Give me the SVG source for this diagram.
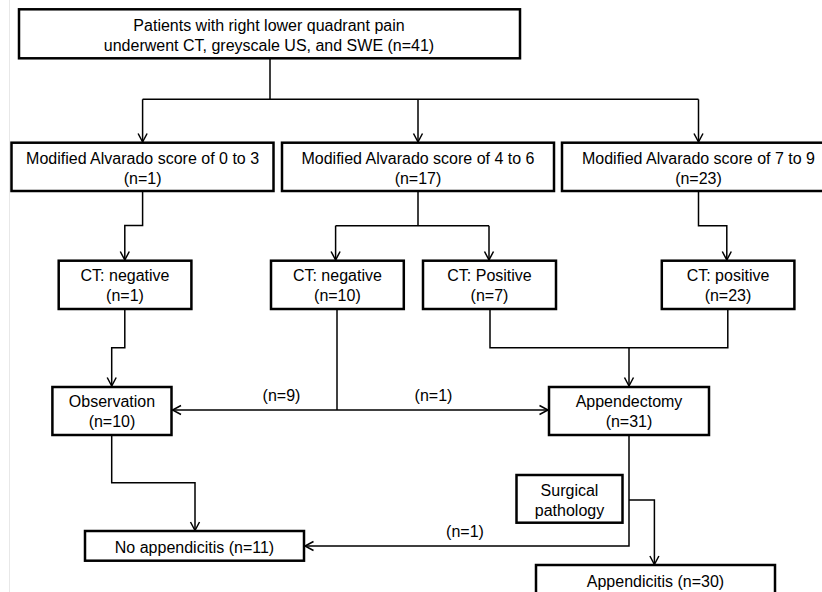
<svg xmlns="http://www.w3.org/2000/svg" width="822" height="592" viewBox="0 0 822 592">
<defs>
<marker id="arr" markerUnits="userSpaceOnUse" markerWidth="12" markerHeight="12" refX="10" refY="6" orient="auto">
<path d="M1.5,1.5 L10,6 L1.5,10.5" fill="none" stroke="#000" stroke-width="1.5"/>
</marker>
<style>
.box{fill:#fff;stroke:#000;stroke-width:2.5}
.t{font-family:"Liberation Sans",Arial,sans-serif;font-size:16px;fill:#000;text-anchor:middle}
.c{fill:none;stroke:#000;stroke-width:1.5}
</style>
</defs>
<rect width="822" height="592" fill="#fff"/>
<line x1="9.5" y1="0" x2="9.5" y2="592" stroke="#e8e8e8" stroke-width="1"/>

<g id="connectors">
<path class="c" d="M270,58 V99.3 M142.6,99.3 H698.5"/>
<path class="c" d="M142.6,99.3 V142" marker-end="url(#arr)"/>
<path class="c" d="M418,99.3 V142" marker-end="url(#arr)"/>
<path class="c" d="M698.5,99.3 V142" marker-end="url(#arr)"/>
<path class="c" d="M142.6,191 V225.5 H124.8 V260" marker-end="url(#arr)"/>
<path class="c" d="M418,191 V225.7 M335.6,225.7 H489"/>
<path class="c" d="M335.6,225.7 V260" marker-end="url(#arr)"/>
<path class="c" d="M489,225.7 V260" marker-end="url(#arr)"/>
<path class="c" d="M698.5,191 V225.7 H726.8 V260" marker-end="url(#arr)"/>
<path class="c" d="M124.8,309 V347.7 H111.7 V386" marker-end="url(#arr)"/>
<path class="c" d="M337,309 V410"/>
<path class="c" d="M337,410 H172.5" marker-end="url(#arr)"/>
<path class="c" d="M337,410 H548" marker-end="url(#arr)"/>
<path class="c" d="M490,309 V347.7 H727.8 V309"/>
<path class="c" d="M629,347.7 V386" marker-end="url(#arr)"/>
<path class="c" d="M111.7,435 V482.7 H195 V530.5" marker-end="url(#arr)"/>
<path class="c" d="M629,435 V546 H305" marker-end="url(#arr)"/>
<path class="c" d="M629,500 H654.4 V564.5" marker-end="url(#arr)"/>
<text class="t" x="281.5" y="401">(n=9)</text>
<text class="t" x="433.5" y="401">(n=1)</text>
<text class="t" x="465" y="537">(n=1)</text>
</g>

<g id="n-top">
<rect class="box" x="19" y="9.3" width="501" height="49"/>
<text class="t" x="269" y="30.5">Patients with right lower quadrant pain</text>
<text class="t" x="269" y="50.5">underwent CT, greyscale US, and SWE (n=41)</text>
</g>

<g id="n-score03">
<rect class="box" x="11.5" y="142.7" width="262" height="48.3"/>
<text class="t" x="142.6" y="163.5">Modified Alvarado score of 0 to 3</text>
<text class="t" x="142.6" y="183.5">(n=1)</text>
</g>
<g id="n-score46">
<rect class="box" x="282" y="142.7" width="272" height="48.3"/>
<text class="t" x="418" y="163.5">Modified Alvarado score of 4 to 6</text>
<text class="t" x="418" y="183.5">(n=17)</text>
</g>
<g id="n-score79">
<rect class="box" x="562" y="142.7" width="273" height="48.3"/>
<text class="t" x="698.5" y="163.5">Modified Alvarado score of 7 to 9</text>
<text class="t" x="698.5" y="183.5">(n=23)</text>
</g>

<g id="n-ctneg1">
<rect class="box" x="58.7" y="260.7" width="132.7" height="48.3"/>
<text class="t" x="125" y="281">CT: negative</text>
<text class="t" x="125" y="301">(n=1)</text>
</g>
<g id="n-ctneg10">
<rect class="box" x="271" y="260.7" width="132.8" height="48.3"/>
<text class="t" x="337.4" y="281">CT: negative</text>
<text class="t" x="337.4" y="301">(n=10)</text>
</g>
<g id="n-ctpos7">
<rect class="box" x="423" y="260.7" width="133" height="48.3"/>
<text class="t" x="489.5" y="281">CT: Positive</text>
<text class="t" x="489.5" y="301">(n=7)</text>
</g>
<g id="n-ctpos23">
<rect class="box" x="661.8" y="260.7" width="132.6" height="48.3"/>
<text class="t" x="728" y="281">CT: positive</text>
<text class="t" x="728" y="301">(n=23)</text>
</g>

<g id="n-observation">
<rect class="box" x="52.4" y="387" width="119.1" height="48"/>
<text class="t" x="112" y="406.5">Observation</text>
<text class="t" x="112" y="427">(n=10)</text>
</g>
<g id="n-appendectomy">
<rect class="box" x="549" y="387" width="160" height="48"/>
<text class="t" x="629" y="406.5">Appendectomy</text>
<text class="t" x="629" y="427">(n=31)</text>
</g>

<g id="n-pathology">
<rect class="box" x="516.5" y="475" width="106" height="47.7"/>
<text class="t" x="569.5" y="496">Surgical</text>
<text class="t" x="569.5" y="516">pathology</text>
</g>

<g id="n-noappendicitis">
<rect class="box" x="85" y="531" width="219" height="29.7"/>
<text class="t" x="194.5" y="552.5">No appendicitis (n=11)</text>
</g>
<g id="n-appendicitis">
<rect class="box" x="536" y="565" width="239" height="40"/>
<text class="t" x="655.5" y="586.5">Appendicitis (n=30)</text>
</g>
</svg>
